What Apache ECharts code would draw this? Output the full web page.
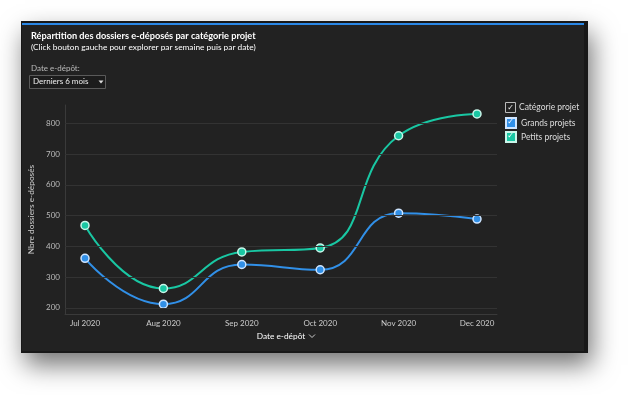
<!DOCTYPE html>
<html>
<head>
<meta charset="utf-8">
<script src="https://cdn.jsdelivr.net/npm/echarts@6/dist/echarts.min.js"></script>
<style>
html,body{margin:0;padding:0;background:#ffffff;}
#chart{width:630px;height:395px;}
</style>
</head>
<body>
<div id="chart"></div>
<script>
const categories = ['Jul 2020','Aug 2020','Sep 2020','Oct 2020','Nov 2020','Dec 2020'];
const grandsProjets = [361, 212, 341, 324, 508, 489];
const petitsProjets = [468, 263, 382, 395, 760, 831];
const seriesNames = ['Grands projets', 'Petits projets'];
const yTickLabels = [200, 300, 400, 500, 600, 700, 800];
const yMin = 180, yMax = 860, yStep = 20;

const FONT = 'Lato, "DejaVu Sans", sans-serif';
const BLUE = '#3190e8';
const GREEN = '#19c7a3';

const chart = echarts.init(document.getElementById('chart'), null, {renderer: 'canvas'});

const option = {
  animation: false,
  backgroundColor: 'transparent',
  textStyle: {fontFamily: FONT},
  title: {
    text: 'Répartition des dossiers e-déposés par catégorie projet',
    subtext: '(Click bouton gauche pour explorer par semaine puis par date)',
    left: 31, top: 32, padding: 0, itemGap: 2,
    textStyle: {fontFamily: FONT, fontSize: 9.2, fontWeight: 'bold', color: '#ffffff'},
    subtextStyle: {fontFamily: FONT, fontSize: 8.3, color: '#ffffff'}
  },
  legend: {
    data: seriesNames,
    orient: 'vertical',
    left: 505, top: 117, padding: 0,
    itemWidth: 10, itemHeight: 10, itemGap: 2,
    icon: 'rect',
    textStyle: {fontFamily: FONT, fontSize: 8.5, color: '#dddddd'},
    selectedMode: false
  },
  graphic: [
    {type: 'rect', z: -10, shape: {x: 21, y: 21, width: 567, height: 332},
     style: {fill: '#181818', shadowBlur: 24, shadowColor: 'rgba(0,0,0,0.55)', shadowOffsetX: 4, shadowOffsetY: 12}},
    {type: 'rect', z: -9, shape: {x: 22, y: 23, width: 562, height: 328}, style: {fill: '#222222'}},
    {type: 'rect', z: -8, shape: {x: 22, y: 23, width: 562, height: 2}, style: {fill: '#2a87e6'}},
    {type: 'text', left: 31, top: 64, style: {text: 'Date e-dépôt:', fontFamily: FONT, fontSize: 8, fill: '#bbbbbb'}},
    {type: 'rect', shape: {x: 29.5, y: 75.5, width: 76, height: 13},
     style: {fill: '#1c1c1c', stroke: '#5a5a5a', lineWidth: 1}},
    {type: 'text', left: 33, top: 77.5, style: {text: 'Derniers 6 mois', fontFamily: FONT, fontSize: 8, fill: '#eeeeee'}},
    {type: 'polygon', shape: {points: [[98.5, 80.5], [103.5, 80.5], [101, 83.5]]}, style: {fill: '#dddddd'}},
    // legend header
    {type: 'rect', shape: {x: 505.5, y: 102.5, width: 10, height: 10}, style: {fill: 'none', stroke: '#bbbbbb', lineWidth: 1}},
    {type: 'text', x: 510.5, y: 107.5, style: {text: '✓', fontSize: 8, fill: '#eeeeee', align: 'center', verticalAlign: 'middle', fontFamily: '"DejaVu Sans"'}},
    {type: 'text', left: 519, top: 103, style: {text: 'Catégorie projet', fontFamily: FONT, fontSize: 8.5, fill: '#dddddd'}},
    {type: 'text', x: 510.5, y: 122, z: 100, style: {text: '✓', fontSize: 8, fill: '#ffffff', align: 'center', verticalAlign: 'middle', fontFamily: '"DejaVu Sans"'}},
    {type: 'text', x: 510.5, y: 136, z: 100, style: {text: '✓', fontSize: 8, fill: '#ffffff', align: 'center', verticalAlign: 'middle', fontFamily: '"DejaVu Sans"'}},
    // chevron after x axis name
    {type: 'polyline', shape: {points: [[309, 334.5], [312, 337.5], [315, 334.5]]}, style: {stroke: '#cccccc', lineWidth: 1, fill: 'none'}}
  ],
  grid: [
    {left: 65, right: 133, top: 105, bottom: 81},
    {left: 85, right: 153, top: 105, bottom: 81}
  ],
  xAxis: [
    {gridIndex: 0, type: 'value', min: 0, max: 1,
     axisLine: {show: true, lineStyle: {color: '#3a3a3a'}},
     axisTick: {show: false}, axisLabel: {show: false}, splitLine: {show: false}},
    {gridIndex: 1, type: 'category', data: categories, boundaryGap: false,
     axisLine: {show: false}, axisTick: {show: false},
     axisLabel: {color: '#cccccc', fontSize: 8, fontFamily: FONT, margin: 5},
     splitLine: {show: false},
     name: 'Date e-dépôt', nameLocation: 'middle', nameGap: 17,
     nameTextStyle: {color: '#ffffff', fontSize: 8.3, fontFamily: FONT}}
  ],
  yAxis: [
    {gridIndex: 0, type: 'value', min: yMin, max: yMax, interval: yStep,
     axisLine: {show: true, lineStyle: {color: '#3a3a3a'}},
     axisTick: {show: false},
     axisLabel: {color: '#bbbbbb', fontSize: 8, fontFamily: FONT, margin: 5,
       formatter: v => (yTickLabels.indexOf(v) >= 0 ? String(v) : '')},
     splitLine: {show: false},
     name: 'Nbre dossiers e-déposés', nameLocation: 'middle', nameGap: 22,
     nameTextStyle: {color: '#cccccc', fontSize: 8.3, fontFamily: FONT}},
    {gridIndex: 1, type: 'value', min: yMin, max: yMax, interval: yStep, show: false}
  ],
  series: [
    {name: 'grid', type: 'line', xAxisIndex: 0, yAxisIndex: 0, data: [], silent: true,
     markLine: {silent: true, symbol: 'none', label: {show: false},
       lineStyle: {color: '#333333', width: 1, type: 'solid'},
       data: yTickLabels.map(v => ({yAxis: v}))}},
    {name: seriesNames[0], type: 'line', xAxisIndex: 1, yAxisIndex: 1, data: grandsProjets,
     smooth: 0.5, symbol: 'circle', symbolSize: 8,
     lineStyle: {color: BLUE, width: 2},
     itemStyle: {color: BLUE, borderColor: '#cfe5ff', borderWidth: 1.5}},
    {name: seriesNames[1], type: 'line', xAxisIndex: 1, yAxisIndex: 1, data: petitsProjets,
     smooth: 0.5, symbol: 'circle', symbolSize: 8,
     lineStyle: {color: GREEN, width: 2},
     itemStyle: {color: GREEN, borderColor: '#c9f6ea', borderWidth: 1.5}}
  ]
};
chart.setOption(option);
</script>
</body>
</html>
